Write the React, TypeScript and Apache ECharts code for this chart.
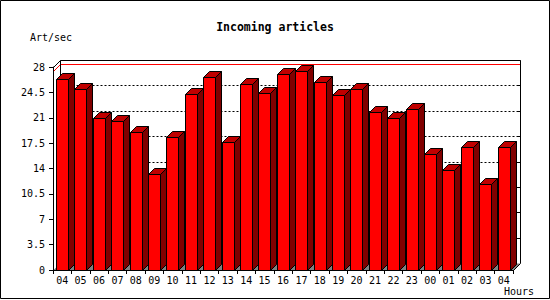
import React, { useEffect, useRef } from "react";
import * as echarts from "echarts";

const hours = ["04", "05", "06", "07", "08", "09", "10", "11", "12", "13", "14", "15", "16", "17", "18", "19", "20", "21", "22", "23", "00", "01", "02", "03", "04"];
const artPerSec = [26.3, 24.9, 20.9, 20.6, 19.1, 13.2, 18.3, 24.3, 26.6, 17.6, 25.7, 24.4, 27.0, 27.5, 25.9, 24.1, 25.0, 21.8, 20.9, 22.2, 16.0, 13.8, 16.9, 11.8, 16.9];
const yTicks = [0, 3.5, 7, 10.5, 14, 17.5, 21, 24.5, 28];
const titleText = "Incoming articles";
const yName = "Art/sec";
const xName = "Hours";

const MONO = "'DejaVu Sans Mono', 'Liberation Mono', monospace";

export default function App() {
  const ref = useRef<HTMLDivElement>(null);
  useEffect(() => {
    if (!ref.current) return;
    const chart = echarts.init(ref.current, undefined, { renderer: "svg" });
    const maxVal = Math.max(...artPerSec);
    const D = 7;
    const bd = 6;
    const px = (v: number) => Math.round(v) + 0.5;

    const frameRender = (params: any, api: any) => {
      const cs = params.coordSys;
      const L = px(cs.x);
      const R = px(cs.x + cs.width);
      const T = px(cs.y);
      const B = px(cs.y + cs.height);
      const children: any[] = [];
      children.push({
        type: "polygon",
        shape: { points: [[L, B - 0.5], [R, B - 0.5], [R + D, B - D], [L + D, B - D]] },
        style: { fill: "#808080" },
      });
      yTicks.forEach((v) => {
        if (v > 0 && v < yTicks[yTicks.length - 1]) {
          const y = px(api.coord([0, v])[1]) - D;
          children.push({
            type: "line",
            shape: { x1: L + D, y1: y, x2: R + D, y2: y },
            style: { stroke: "#000", lineWidth: 1, lineDash: [2, 2] },
          });
        }
        if (v > 0) {
          const y = px(api.coord([0, v])[1]) - D;
          children.push({
            type: "line",
            shape: { x1: R + D - 3, y1: y, x2: R + D, y2: y },
            style: { stroke: "#000", lineWidth: 1 },
          });
        }
      });
      const yM = px(api.coord([0, maxVal])[1]);
      children.push({
        type: "polyline",
        shape: { points: [[L, yM], [L + D, yM - D], [R + D, yM - D]] },
        style: { stroke: "#ff0000", lineWidth: 1, fill: "none" },
      });
      children.push({
        type: "polyline",
        shape: { points: [[L, T], [L + D, T - D], [R + D, T - D], [R + D, B - D], [R, B]] },
        style: { stroke: "#000", lineWidth: 1, fill: "none" },
      });
      children.push({
        type: "line",
        shape: { x1: L + D, y1: T - D, x2: L + D, y2: B - D },
        style: { stroke: "#000", lineWidth: 1 },
      });
      return { type: "group", children };
    };

    const barRender = (params: any, api: any) => {
      const i = api.value(0);
      const v = api.value(1);
      const top = api.coord([i, v]);
      const bot = api.coord([i, 0]);
      const bw = api.size([1, 0])[0];
      const x0 = px(top[0] - bw * 0.34);
      const x1 = x0 + Math.round(bw * 0.64);
      const yT = px(top[1]);
      const yB = px(bot[1]);
      const stroke = { stroke: "#000", lineWidth: 1 };
      return {
        type: "group",
        children: [
          {
            type: "polygon",
            shape: { points: [[x1, yT], [x1 + bd, yT - bd], [x1 + bd, yB - bd], [x1, yB]] },
            style: { fill: "#800000", ...stroke },
          },
          {
            type: "polygon",
            shape: { points: [[x0, yT], [x1, yT], [x1 + bd, yT - bd], [x0 + bd, yT - bd]] },
            style: { fill: "#c00000", ...stroke },
          },
          {
            type: "rect",
            shape: { x: x0, y: yT, width: x1 - x0, height: yB - yT },
            style: { fill: "#ff0000", ...stroke },
          },
        ],
      };
    };

    chart.setOption({
      animation: false,
      backgroundColor: "#ffffff",
      title: {
        text: titleText,
        left: "center",
        top: 16,
        textStyle: { fontFamily: MONO, fontSize: 11.5, fontWeight: "bold", color: "#000" },
      },
      grid: { left: 53, right: 37, top: 67, bottom: 30, containLabel: false },
      xAxis: {
        type: "category",
        data: hours,
        z: 10,
        boundaryGap: true,
        axisLine: { show: true, lineStyle: { color: "#000", width: 1 } },
        axisTick: { show: true, alignWithLabel: false, interval: 0, length: 4, lineStyle: { color: "#000" } },
        axisLabel: { interval: 0, margin: 5, color: "#000", fontFamily: MONO, fontSize: 10 },
        splitLine: { show: false },
      },
      yAxis: {
        type: "value",
        min: 0,
        max: 28,
        interval: 3.5,
        z: 10,
        axisLine: { show: true, lineStyle: { color: "#000", width: 1 } },
        axisTick: { show: true, length: 4, lineStyle: { color: "#000" } },
        axisLabel: { margin: 8, color: "#000", fontFamily: MONO, fontSize: 10 },
        splitLine: { show: false },
      },
      graphic: [
        {
          type: "rect",
          silent: true,
          shape: { x: 0.5, y: 0.5, width: 549, height: 298 },
          style: { fill: "none", stroke: "#000", lineWidth: 1 },
          z: 100,
        },
        {
          type: "text",
          x: 30,
          y: 32,
          style: { text: yName, fontFamily: MONO, fontSize: 10, fill: "#000" },
        },
        {
          type: "text",
          x: 504,
          y: 286,
          style: { text: xName, fontFamily: MONO, fontSize: 10, fill: "#000" },
        },
      ],
      series: [
        {
          type: "custom",
          z: 1,
          silent: true,
          renderItem: frameRender,
          data: [[0, 0]],
        },
        {
          type: "custom",
          z: 3,
          silent: true,
          renderItem: barRender,
          data: artPerSec.map((v, i) => [i, v]),
        },
      ],
    });
    return () => chart.dispose();
  }, []);
  return <div ref={ref} style={{ position: "absolute", left: 0, top: 0, width: 550, height: 300 }} />;
}
